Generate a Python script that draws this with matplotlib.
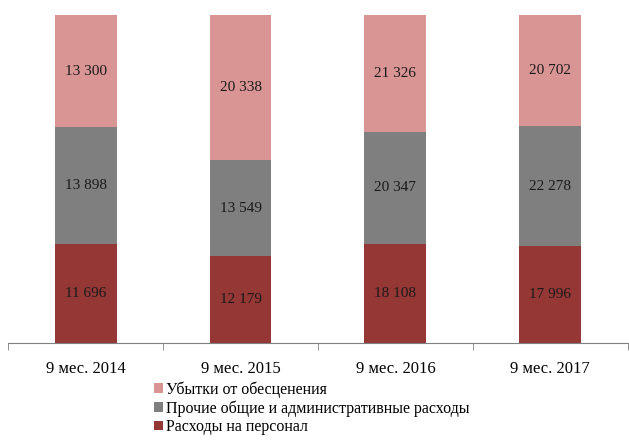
import numpy as np
import matplotlib.pyplot as plt

plt.rcParams['font.family'] = ['Liberation Serif', 'DejaVu Serif']

# Данные (млн руб.)
periods = ['9 мес. 2014', '9 мес. 2015', '9 мес. 2016', '9 мес. 2017']
personnel = [11696, 12179, 18108, 17996]
admin = [13898, 13549, 20347, 22278]
impairment = [13300, 20338, 21326, 20702]

names = ['Расходы на персонал', 'Прочие общие и административные расходы', 'Убытки от обесценения']
colors = ['#953735', '#7F7F7F', '#D99594']

series = [np.array(personnel, float), np.array(admin, float), np.array(impairment, float)]
total = sum(series)

fig = plt.figure(figsize=(6.29, 4.41), dpi=100)
ax = fig.add_axes([0.013, 0.222, 0.985, 0.744])

x = np.arange(len(periods))
bottom = np.zeros(len(periods))
bars = []
for vals, name, c in zip(series, names, colors):
    share = vals / total * 100
    b = ax.bar(x, share, 0.4, bottom=bottom, color=c, label=name)
    for xi, bt, s, v in zip(x, bottom, share, vals):
        ax.text(xi, bt + s / 2, f'{int(v):,}'.replace(',', ' '), ha='center', va='center',
                fontsize=11, color='#1a1a1a')
    bottom += share
    bars.append(b)

ax.set_xlim(-0.5, len(periods) - 0.5)
ax.set_ylim(0, 100)
ax.set_yticks([])
for s in ['top', 'right', 'left']:
    ax.spines[s].set_visible(False)
ax.spines['bottom'].set_color('#808080')
ax.set_xticks(np.arange(len(periods) + 1) - 0.5, minor=True)
ax.set_xticks(x)
ax.set_xticklabels(periods, fontsize=12)
ax.tick_params(axis='x', which='major', length=0, pad=13)
ax.tick_params(axis='x', which='minor', length=5, color='#808080')

handles = bars[::-1]
fig.legend(handles, names[::-1], loc='upper left', bbox_to_anchor=(0.235, 0.15),
           frameon=False, fontsize=11.5, handlelength=0.55, handleheight=0.55,
           handletextpad=0.2, labelspacing=0.15, borderaxespad=0)

fig.savefig('out.png', dpi=100)
